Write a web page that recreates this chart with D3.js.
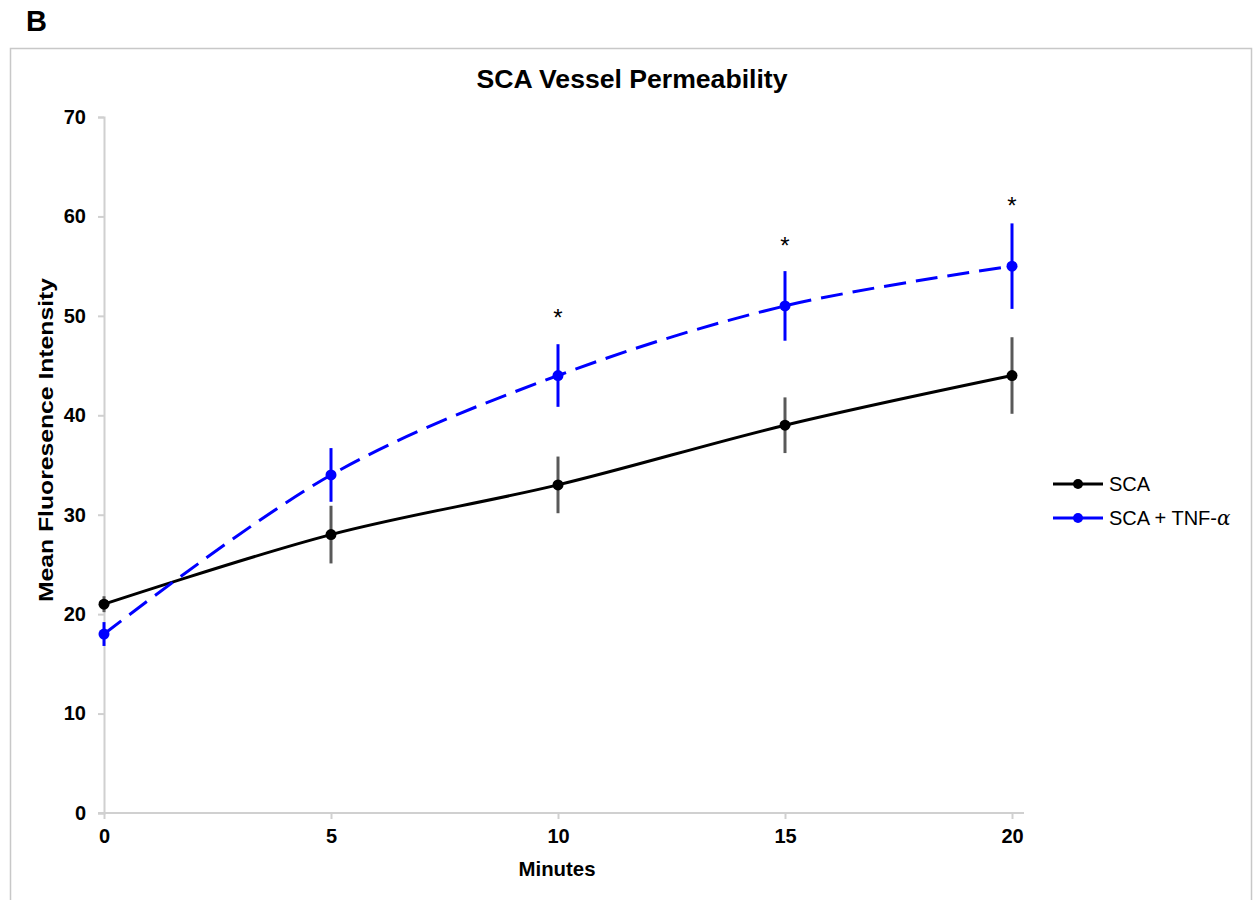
<!DOCTYPE html>
<html>
<head>
<meta charset="utf-8">
<script src="https://cdn.jsdelivr.net/npm/d3@7/dist/d3.min.js"></script>
<style>
  html, body { margin: 0; padding: 0; background: #fff; }
  svg { display: block; font-family: "Liberation Sans", Arial, sans-serif; }
</style>
</head>
<body>
<svg id="chart" width="1254" height="900"></svg>
<script>
// Time points (minutes) and measurements
const minutes = [0, 5, 10, 15, 20];
const scaMean = [21, 28, 33, 39, 44];
const scaErr = [0.8, 2.9, 2.85, 2.8, 3.85];
const tnfMean = [18, 34, 44, 51, 55];
const tnfErr = [1.2, 2.7, 3.15, 3.5, 4.3];
// Significance asterisks: time point and level on the value axis
const starMinutes = [10, 15, 20];
const starLevels = [50.1, 57.3, 61.4];
const yTicks = [0, 10, 20, 30, 40, 50, 60, 70];
const xTicks = [0, 5, 10, 15, 20];

const svg = d3.select("#chart");

// Panel letter
svg.append("text").attr("x", 26).attr("y", 31)
  .attr("font-size", 29).attr("font-weight", "bold").text("B");

// Panel frame
svg.append("rect").attr("x", 10.5).attr("y", 48.5).attr("width", 1241).attr("height", 880)
  .attr("fill", "none").attr("stroke", "#c8c8c8").attr("stroke-width", 1.5);

const x = d3.scaleLinear().domain([0, 20]).range([104, 1012]);
const y = d3.scaleLinear().domain([0, 70]).range([813, 117]);

// Title
svg.append("text").attr("x", 632).attr("y", 88).attr("text-anchor", "middle")
  .attr("font-size", 25).attr("font-weight", "bold")
  .attr("textLength", 311).attr("lengthAdjust", "spacingAndGlyphs")
  .text("SCA Vessel Permeability");

// Axes
const axisColor = "#d0d0d0";
const yAxis = svg.append("g").attr("transform", `translate(${x(0)},0)`)
  .call(d3.axisLeft(y).tickValues(yTicks).tickSize(6).tickPadding(12));
const xAxis = svg.append("g").attr("transform", `translate(0,${y(0)})`)
  .call(d3.axisBottom(x).tickValues(xTicks).tickSize(6).tickPadding(10));
[yAxis, xAxis].forEach(g => {
  g.select(".domain").attr("stroke", axisColor).attr("stroke-width", 2);
  g.selectAll(".tick line").attr("stroke", axisColor).attr("stroke-width", 2);
  g.selectAll(".tick text").attr("font-size", 20).attr("font-weight", "bold")
    .attr("fill", "#000").attr("font-family", "Liberation Sans, Arial, sans-serif");
});
xAxis.select(".domain").attr("d", `M${x(0) - 6},0H${x(20) + 12}`);

// Axis titles
svg.append("text").attr("x", 557).attr("y", 876).attr("text-anchor", "middle")
  .attr("font-size", 21).attr("font-weight", "bold")
  .attr("textLength", 77).attr("lengthAdjust", "spacingAndGlyphs").text("Minutes");
svg.append("text").attr("transform", `translate(53,440) rotate(-90)`).attr("text-anchor", "middle")
  .attr("font-size", 21).attr("font-weight", "bold")
  .attr("textLength", 324).attr("lengthAdjust", "spacingAndGlyphs")
  .text("Mean Fluoresence Intensity");

const line = d3.line().x(d => x(d[0])).y(d => y(d[1])).curve(d3.curveCatmullRom.alpha(0.5));

const series = [
  { name: "SCA", mean: scaMean, err: scaErr, color: "#000", errColor: "#595959", dash: null },
  { name: "SCA + TNF-", mean: tnfMean, err: tnfErr, color: "#0000ff", errColor: "#0000ff", dash: "22,10" }
];

// Error bars
series.forEach(s => {
  svg.append("g").selectAll("line").data(minutes).join("line")
    .attr("x1", (d) => x(d)).attr("x2", (d) => x(d))
    .attr("y1", (d, i) => y(s.mean[i] + s.err[i]))
    .attr("y2", (d, i) => y(s.mean[i] - s.err[i]))
    .attr("stroke", s.errColor).attr("stroke-width", 3);
});

// Lines and markers
series.forEach(s => {
  const pts = minutes.map((m, i) => [m, s.mean[i]]);
  svg.append("path").datum(pts).attr("d", line)
    .attr("fill", "none").attr("stroke", s.color).attr("stroke-width", 3)
    .attr("stroke-dasharray", s.dash);
  svg.append("g").selectAll("circle").data(pts).join("circle")
    .attr("cx", d => x(d[0])).attr("cy", d => y(d[1])).attr("r", 5.5)
    .attr("fill", s.color);
});

// Significance markers
svg.append("g").selectAll("text").data(starMinutes).join("text")
  .attr("x", d => x(d))
  .attr("y", (d, i) => y(starLevels[i]) + 11)
  .attr("text-anchor", "middle").attr("font-size", 24).text("*");

// Legend
const legend = svg.append("g").attr("transform", "translate(1053,484)");
series.forEach((s, i) => {
  const g = legend.append("g").attr("transform", `translate(0,${i * 34})`);
  g.append("line").attr("x1", 0).attr("x2", 50).attr("y1", 0).attr("y2", 0)
    .attr("stroke", s.color).attr("stroke-width", 3);
  g.append("circle").attr("cx", 25).attr("cy", 0).attr("r", 5).attr("fill", s.color);
  const t = g.append("text").attr("x", 56).attr("y", 7).attr("font-size", 20);
  t.append("tspan").text(s.name);
  if (i === 1) {
    t.append("tspan").attr("font-style", "italic").attr("font-family", "DejaVu Serif, serif").text("α");
  }
});
</script>
</body>
</html>
